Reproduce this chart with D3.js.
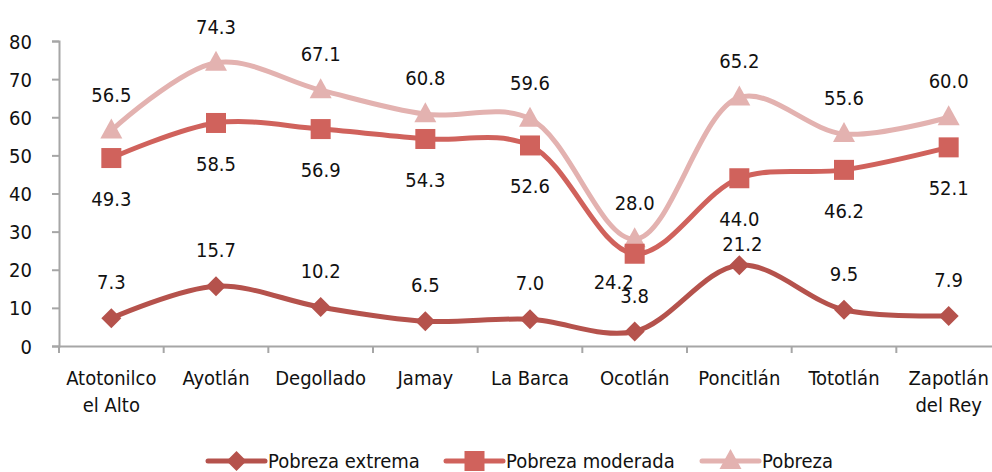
<!DOCTYPE html>
<html>
<head>
<meta charset="utf-8">
<script src="https://cdn.jsdelivr.net/npm/d3@7"></script>
<style>
  body { margin: 0; background: #fff; }
  svg text { font-family: "DejaVu Sans Condensed", "DejaVu Sans", sans-serif; font-stretch: condensed; fill: #111; }
</style>
</head>
<body>
<svg id="chart" width="992" height="472"></svg>
<script>
const municipios = ["Atotonilco el Alto", "Ayotlán", "Degollado", "Jamay", "La Barca",
  "Ocotlán", "Poncitlán", "Tototlán", "Zapotlán del Rey"];
const labelLines = [["Atotonilco", "el Alto"], ["Ayotlán"], ["Degollado"], ["Jamay"], ["La Barca"],
  ["Ocotlán"], ["Poncitlán"], ["Tototlán"], ["Zapotlán", "del Rey"]];

const pobrezaExtrema = [7.3, 15.7, 10.2, 6.5, 7.0, 3.8, 21.2, 9.5, 7.9];
const pobrezaModerada = [49.3, 58.5, 56.9, 54.3, 52.6, 24.2, 44.0, 46.2, 52.1];
const pobreza = [56.5, 74.3, 67.1, 60.8, 59.6, 28.0, 65.2, 55.6, 60.0];

const yTicks = [0, 10, 20, 30, 40, 50, 60, 70, 80];

const series = [
  { name: "Pobreza extrema", values: pobrezaExtrema, color: "#b5524c", shape: "diamond", dy: -36 },
  { name: "Pobreza moderada", values: pobrezaModerada, color: "#d0625c", shape: "square", dy: 41 },
  { name: "Pobreza", values: pobreza, color: "#e3b2b0", shape: "triangle", dy: -36 }
];

// hand-moved labels in the original (series name -> point index -> [dx, dy])
const labelNudges = {
  "Pobreza extrema": { 6: [3, 15] },
  "Pobreza moderada": { 5: [-21, -13] }
};

const fontSize = "20px";

const svg = d3.select("#chart");

const x = d3.scaleBand()
  .domain(municipios)
  .range([59, 1001]);

const y = d3.scaleLinear()
  .domain([0, 80])
  .range([346, 41]);

const axisColor = "#a6a6a6";

// y axis
const yAxis = svg.append("g")
  .attr("transform", "translate(59,0)")
  .call(d3.axisLeft(y).tickValues(yTicks).tickSize(7).tickPadding(20).tickFormat(d3.format("d")));
yAxis.select(".domain").attr("stroke", axisColor).attr("stroke-width", 2);
yAxis.selectAll(".tick line").attr("stroke", axisColor).attr("stroke-width", 2);
yAxis.selectAll(".tick text").style("font-size", fontSize).attr("dy", "0.35em");

// x axis
const xAxis = svg.append("g")
  .attr("transform", "translate(0,346)")
  .call(d3.axisBottom(x).tickSize(0).tickFormat(""));
xAxis.select(".domain").attr("stroke", axisColor).attr("stroke-width", 2);

const boundaries = municipios.map(m => x(m)).concat([x.range()[1]]);
svg.append("g").selectAll("line")
  .data(boundaries)
  .join("line")
  .attr("x1", d => d).attr("x2", d => d)
  .attr("y1", 346).attr("y2", 353)
  .attr("stroke", axisColor).attr("stroke-width", 2);

const catLabels = svg.append("g").selectAll("text")
  .data(municipios)
  .join("text")
  .attr("x", d => x(d) + x.bandwidth() / 2)
  .attr("y", 385)
  .attr("text-anchor", "middle")
  .style("font-size", fontSize);
catLabels.each(function(d, i) {
  d3.select(this).selectAll("tspan")
    .data(labelLines[i])
    .join("tspan")
    .attr("x", x(d) + x.bandwidth() / 2)
    .attr("dy", (t, j) => j === 0 ? 0 : 27)
    .text(t => t);
});

const cx = i => x(municipios[i]) + x.bandwidth() / 2;

const line = d3.line()
  .x((d, i) => cx(i))
  .y(d => y(d))
  .curve(d3.curveCatmullRom.alpha(0.5));

function marker(sel, shape, color) {
  if (shape === "square") {
    sel.append("rect").attr("x", -10).attr("y", -10).attr("width", 20).attr("height", 20).attr("fill", color);
  } else if (shape === "diamond") {
    sel.append("path").attr("d", "M0,-10L10,0L0,10L-10,0Z").attr("fill", color);
  } else {
    sel.append("path").attr("d", "M0,-12L11,8L-11,8Z").attr("fill", color);
  }
}

// draw series in reverse so that Pobreza sits behind
[series[2], series[1], series[0]].forEach(s => {
  const g = svg.append("g");
  g.append("path")
    .datum(s.values)
    .attr("d", line)
    .attr("fill", "none")
    .attr("stroke", s.color)
    .attr("stroke-width", 5)
    .attr("stroke-linecap", "round");
  s.values.forEach((v, i) => {
    const m = g.append("g").attr("transform", `translate(${cx(i)},${y(v)})`);
    marker(m, s.shape, s.color);
  });
});

// data labels
series.forEach(s => {
  const nudge = labelNudges[s.name] || {};
  svg.append("g").selectAll("text")
    .data(s.values)
    .join("text")
    .attr("x", (d, i) => cx(i) + (nudge[i] ? nudge[i][0] : 0))
    .attr("y", (d, i) => y(d) + s.dy + (nudge[i] ? nudge[i][1] : 0))
    .attr("dy", "0.35em")
    .attr("text-anchor", "middle")
    .style("font-size", fontSize)
    .text(d => d.toFixed(1));
});

// legend
const legendX = [208, 446, 702];
series.forEach((s, i) => {
  const lg = svg.append("g").attr("transform", `translate(${legendX[i]},461)`);
  lg.append("line")
    .attr("x1", 0).attr("x2", 57)
    .attr("stroke", s.color).attr("stroke-width", 5).attr("stroke-linecap", "round");
  const m = lg.append("g").attr("transform", "translate(28.5,0)");
  marker(m, s.shape, s.color);
  lg.append("text")
    .attr("x", 60)
    .attr("dy", "0.35em")
    .style("font-size", fontSize)
    .text(s.name);
});
</script>
</body>
</html>
